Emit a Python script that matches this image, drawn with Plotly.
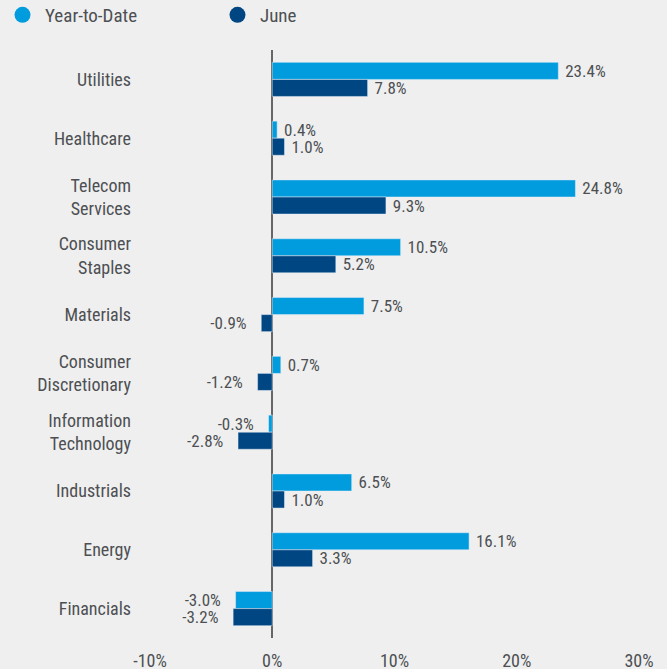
import plotly.graph_objects as go

categories = ["Utilities", "Healthcare", "Telecom<br>Services", "Consumer<br>Staples",
              "Materials", "Consumer<br>Discretionary", "Information<br>Technology",
              "Industrials", "Energy", "Financials"]
ytd = [23.4, 0.4, 24.8, 10.5, 7.5, 0.7, -0.3, 6.5, 16.1, -3.0]
june = [7.8, 1.0, 9.3, 5.2, -0.9, -1.2, -2.8, 1.0, 3.3, -3.2]
tick_vals = [-10, 0, 10, 20, 30]
tick_text = ["-10%", "0%", "10%", "20%", "30%"]

C_YTD = "#009cde"
C_JUNE = "#004682"
TXT = "#4d4f53"
FONT = "Roboto Condensed, Liberation Sans Narrow, Roboto, sans-serif"
NB = "\u00a0"


def labels(vals):
    return [f"{NB}{v:.1f}%" if v >= 0 else f"{v:.1f}%{NB * 3}" for v in vals]


fig = go.Figure()
for name, vals, col in [("Year-to-Date", ytd, C_YTD), ("June", june, C_JUNE)]:
    fig.add_trace(go.Bar(
        y=categories, x=vals, orientation="h", marker_color=col, name=name,
        showlegend=False, text=labels(vals), texttemplate="%{text}",
        textposition="outside", constraintext="none",
        textfont=dict(size=17, color=TXT, family=FONT), cliponaxis=False,
    ))
for name, col in [("Year-to-Date", C_YTD), ("June", C_JUNE)]:
    fig.add_trace(go.Scatter(x=[None], y=[None], mode="markers", name=name,
                             marker=dict(symbol="circle", size=16, color=col)))

fig.update_layout(
    width=667, height=669,
    paper_bgcolor="#efefef", plot_bgcolor="#efefef",
    margin=dict(l=150, r=28, t=50, b=31, autoexpand=False),
    barmode="group", bargap=0.42, bargroupgap=0,
    font=dict(family=FONT, color=TXT, size=18),
    legend=dict(orientation="h", xref="container", yref="paper", x=0, y=1.0595,
                xanchor="left", yanchor="middle", entrywidth=165, itemwidth=35,
                font=dict(size=19, color=TXT), bgcolor="rgba(0,0,0,0)"),
    xaxis=dict(range=[-10, 30], tickvals=tick_vals, ticktext=tick_text,
               showgrid=False, zeroline=True, zerolinecolor="#666666", zerolinewidth=2,
               showline=False, ticks="", ticklabelstandoff=10,
               tickfont=dict(size=18, color=TXT)),
    yaxis=dict(autorange="reversed", showgrid=False, showline=False, ticks="",
               ticklabelstandoff=18, tickfont=dict(size=18, color=TXT)),
)
fig.write_html("out.html", config={"displayModeBar": False},
               post_script="document.body.style.margin='0';document.body.style.background='#efefef';")
